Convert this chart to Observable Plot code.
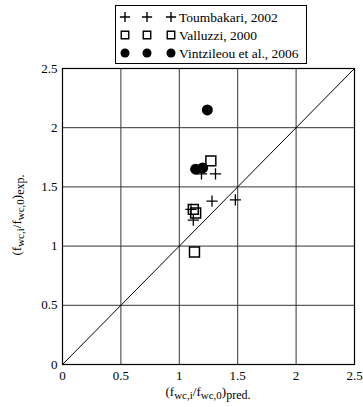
<!DOCTYPE html>
<html><head><meta charset="utf-8">
<script src="https://cdn.jsdelivr.net/npm/d3@7"></script>
<script src="https://cdn.jsdelivr.net/npm/@observablehq/plot@0.6"></script>
<style>
body{margin:0;background:#fff;}
#wrap{position:relative;width:363px;height:407px;font-family:"Liberation Serif","Times New Roman",serif;}
#wrap svg text{font-family:"Liberation Serif","Times New Roman",serif !important;}
#legend{position:absolute;left:115px;top:5px;width:192px;height:59px;border:1px solid #000;background:#fff;box-sizing:border-box;}
</style></head>
<body><div id="wrap"><div id="legend"></div></div>
<script>
const ticks = [0, 0.5, 1, 1.5, 2, 2.5];
const tickLabels = ["0", "0.5", "1", "1.5", "2", "2.5"];
const diag = [0, 2.5];

const toumbakariX = [1.10, 1.12, 1.28, 1.48, 1.19, 1.31];
const toumbakariY = [1.31, 1.22, 1.38, 1.39, 1.61, 1.61];
const valluzziX = [1.12, 1.14, 1.13, 1.27];
const valluzziY = [1.31, 1.28, 0.95, 1.72];
const vintzileouX = [1.24, 1.14, 1.20];
const vintzileouY = [2.15, 1.65, 1.66];

const seriesNames = ["Toumbakari, 2002", "Valluzzi, 2000", "Vintzileou et al., 2006"];

const pts = (xs, ys) => xs.map((x, i) => ({x, y: ys[i]}));

const chart = Plot.plot({
  width: 363, height: 407,
  marginLeft: 62, marginRight: 9, marginTop: 68, marginBottom: 43,
  style: {fontFamily: '"Liberation Serif","Times New Roman",serif', fontSize: "13px", background: "transparent"},
  x: {domain: [0, 2.5], ticks: ticks, tickFormat: (d, i) => tickLabels[i], tickSize: 0, tickPadding: 6, label: null},
  y: {domain: [0, 2.5], ticks: ticks, tickFormat: (d, i) => tickLabels[i], tickSize: 0, tickPadding: 5, label: null},
  marks: [
    Plot.ruleX(ticks, {stroke: "#333", strokeWidth: 1}),
    Plot.ruleY(ticks, {stroke: "#333", strokeWidth: 1}),
    Plot.line(diag, {x: d => d, y: d => d, stroke: "#000", strokeWidth: 1}),
    Plot.dot(pts(valluzziX, valluzziY), {x: "x", y: "y", symbol: "square", r: 5.6, fill: "none", stroke: "#000", strokeWidth: 1.5}),
    Plot.dot(pts(toumbakariX, toumbakariY), {x: "x", y: "y", symbol: "plus", r: 3.7, stroke: "#000", strokeWidth: 1.3}),
    Plot.dot(pts(vintzileouX, vintzileouY), {x: "x", y: "y", symbol: "circle", r: 5.5, fill: "#000", stroke: "none"}),
    Plot.frame({stroke: "#000", strokeWidth: 1.2})
  ]
});
document.getElementById("wrap").insertBefore(chart, document.getElementById("legend"));

const svg = d3.select(chart);
function subLabel(g, sub) {
  g.append("tspan").text("(f");
  g.append("tspan").attr("baseline-shift", "-25%").attr("font-size", "11px").text("wc,i");
  g.append("tspan").text("/f");
  g.append("tspan").attr("baseline-shift", "-25%").attr("font-size", "11px").text("wc,0");
  g.append("tspan").text(")");
  g.append("tspan").attr("baseline-shift", "-25%").attr("font-size", "12px").text(sub);
}
const xl = svg.append("text").attr("x", 208).attr("y", 396).attr("text-anchor", "middle")
  .attr("font-size", "13px");
subLabel(xl, "pred.");
const yl = svg.append("text").attr("transform", "translate(21,215) rotate(-90)").attr("text-anchor", "middle")
  .attr("font-size", "13px");
subLabel(yl, "exp.");

// legend
const leg = d3.select("#legend").append("svg").attr("width", 192).attr("height", 59)
  .style("position", "absolute").style("left", "-1px").style("top", "-1px");
const symTypes = [d3.symbolPlus, d3.symbolSquare, d3.symbolCircle];
const symSizes = [36, 56, 64];
seriesNames.forEach((name, i) => {
  const yy = 12 + i * 18;
  [10, 32, 56].forEach(xx => {
    const p = leg.append("path").attr("d", d3.symbol(symTypes[i], symSizes[i])())
      .attr("transform", `translate(${xx},${yy})`);
    if (i < 2) p.attr("fill", "none").attr("stroke", "#000").attr("stroke-width", 1.4);
    else p.attr("fill", "#000");
  });
  leg.append("text").attr("x", 64).attr("y", yy + 5).attr("font-size", "13.5px")
    .attr("font-family", '"Liberation Serif",serif').text(name);
});
</script></body></html>
